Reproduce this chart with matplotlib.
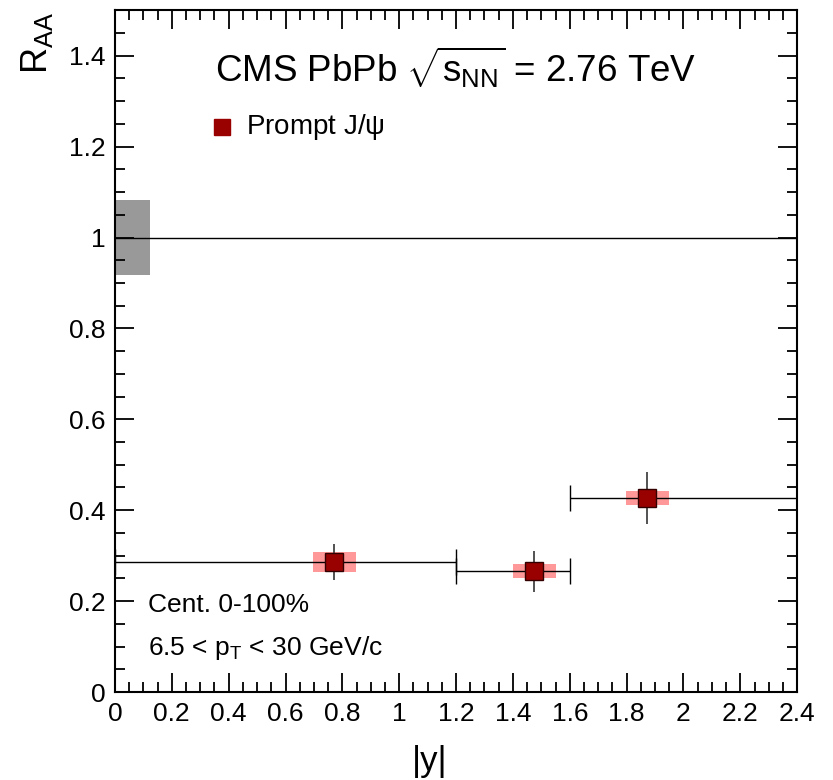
import numpy as np
import matplotlib
matplotlib.use("Agg")
import matplotlib.pyplot as plt
from matplotlib.ticker import MultipleLocator

plt.rcParams['font.family'] = ['Liberation Sans', 'DejaVu Sans']
plt.rcParams['mathtext.fontset'] = 'custom'
plt.rcParams['mathtext.rm'] = 'Liberation Sans'
plt.rcParams['mathtext.it'] = 'Liberation Sans'
plt.rcParams['mathtext.sf'] = 'Liberation Sans'

# Prompt J/psi RAA vs |y|
y_center = [0.771, 1.475, 1.873]
x_low = [0.0, 1.2, 1.6]
x_high = [1.2, 1.6, 2.4]
raa = [0.286, 0.266, 0.427]
stat_err = [0.040, 0.045, 0.057]
syst_err = [0.021, 0.016, 0.015]
syst_halfwidth = 0.076

# global uncertainty box at unity
global_unc = 0.083
global_box_width = 0.123

fig = plt.figure(figsize=(8.33, 7.8), dpi=100)
ax = fig.add_axes([0.138, 0.1128, 0.819, 0.874])

ax.set_xlim(0, 2.4)
ax.set_ylim(0, 1.5)

# global box and unity line
ax.bar(0, 2 * global_unc, bottom=1 - global_unc, width=global_box_width,
       align='edge', color='#999999', zorder=1)
ax.axhline(1.0, color='black', lw=1.0, zorder=2)

# systematic boxes
raa_a = np.array(raa)
syst_a = np.array(syst_err)
ax.bar(y_center, 2 * syst_a, bottom=raa_a - syst_a, width=2 * syst_halfwidth,
       color='#ff9999', zorder=2)

# bin widths (horizontal bars with caps)
xc = np.array(y_center)
xerr = [xc - np.array(x_low), np.array(x_high) - xc]
ax.errorbar(y_center, raa, xerr=xerr, fmt='none', ecolor='black',
            elinewidth=1.0, capsize=9.4, capthick=1.0, zorder=3)
# statistical errors
ax.errorbar(y_center, raa, yerr=stat_err, fmt='none', ecolor='#444444',
            elinewidth=1.3, capsize=0, zorder=3)
ax.plot(y_center, raa, 's', color='#990000', markeredgecolor='#330000',
        markeredgewidth=1.0, markersize=13, zorder=4, clip_on=False)

# ticks
ax.xaxis.set_major_locator(MultipleLocator(0.2))
ax.xaxis.set_minor_locator(MultipleLocator(0.05))
ax.yaxis.set_major_locator(MultipleLocator(0.2))
ax.yaxis.set_minor_locator(MultipleLocator(0.05))
ax.tick_params(which='both', direction='in', top=True, right=True, width=1.3)
ax.tick_params(which='major', length=14, labelsize=19, pad=7)
ax.tick_params(which='minor', length=7)
for s in ax.spines.values():
    s.set_linewidth(1.5)

def fmt(v, pos):
    return ('%g' % round(v, 2))
ax.xaxis.set_major_formatter(matplotlib.ticker.FuncFormatter(fmt))
ax.yaxis.set_major_formatter(matplotlib.ticker.FuncFormatter(fmt))

ax.set_xlabel('|y|', fontsize=25)
ax.xaxis.set_label_coords(0.462, -0.077)
ax.xaxis.label.set_verticalalignment('top')
ax.set_ylabel(r'R$_{\mathrm{AA}}$', fontsize=26)
ax.yaxis.set_label_coords(-0.14, 0.997)
ax.yaxis.label.set_verticalalignment('top')
ax.yaxis.label.set_horizontalalignment('right')

ax.text(0.5, 0.917, r'CMS PbPb $\sqrt{s_{\mathrm{NN}}}$ = 2.76 TeV',
        transform=ax.transAxes, fontsize=26.5, ha='center', va='center')

# legend entry
ax.plot([0.376], [1.244], 's', color='#990000', markersize=11)
ax.text(0.46, 1.244, r'Prompt J/$\psi$', fontsize=20, va='center')

ax.text(0.115, 0.191, 'Cent. 0-100%', fontsize=19, va='center')
ax.text(0.115, 0.097, r'6.5 < p$_{\mathrm{T}}$ < 30 GeV/c', fontsize=19, va='center')

fig.savefig('out.png', dpi=100)
